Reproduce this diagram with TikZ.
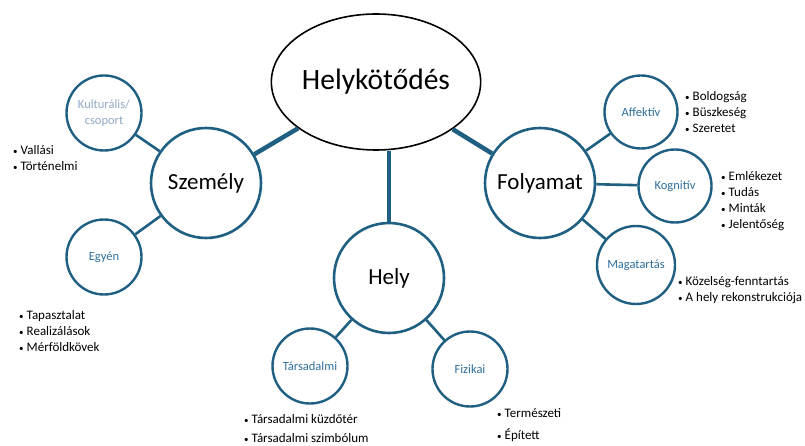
\documentclass[tikz,border=0pt]{standalone}
\usepackage{fontspec}
\setmainfont{Carlito}
\usetikzlibrary{shapes.geometric}
\definecolor{ring}{HTML}{1F5F82}
\definecolor{sublbl}{HTML}{2E6E9E}
\definecolor{pale}{HTML}{8FA8C4}
\newcommand\bul{\makebox[7.5pt][l]{\fontsize{9}{9}\selectfont\textbullet}}
\tikzset{
  hub/.style={circle, draw=ring, line width=2.6pt, minimum size=110pt, inner sep=0pt, font=\fontsize{23}{26}\selectfont},
  sub/.style={circle, draw=ring, line width=2.4pt, minimum size=75pt, inner sep=0pt, text=sublbl, font=\fontsize{12.5}{16}\selectfont, align=center},
  thickline/.style={draw=ring, line width=4.5pt},
  thinline/.style={draw=ring, line width=2.6pt},
  item/.style={anchor=west, inner sep=0pt, text height=1.45ex, text depth=0.25ex, font=\fontsize{13}{15}\selectfont}
}
\begin{document}
\begin{tikzpicture}[x=1pt,y=-1pt]
\useasboundingbox (0,0) rectangle (805,446);
% main ellipse
\node[ellipse, draw=black, line width=1.6pt, minimum width=196pt, minimum height=136pt, inner sep=0pt, font=\fontsize{29.5}{32}\selectfont] (helyk) at (376,82) {Helykötődés};
% hubs
\node[hub] (szem) at (206,183) {Személy};
\node[hub] (hely) at (389,278) {Hely};
\node[hub] (foly) at (540,183) {Folyamat};
% sub circles
\node[sub, text=pale] (kult) at (104,113) {Kulturális/\\csoport};
\node[sub] (egyen) at (104,257) {Egyén};
\node[sub] (tars) at (310,366) {Társadalmi};
\node[sub] (fiz) at (470,369) {Fizikai};
\node[sub, minimum size=73pt] (aff) at (641,112) {Affektív};
\node[sub, minimum size=73pt] (kogn) at (675,186) {Kognitív};
\node[sub, minimum size=78pt] (maga) at (636,265) {Magatartás};
% connectors
\draw[thickline] (helyk) -- (szem);
\draw[thickline] (helyk) -- (foly);
\draw[thickline] (hely.north) -- (hely.north |- helyk.south);
\draw[thinline] (szem) -- (kult);
\draw[thinline] (szem) -- (egyen);
\draw[thinline] (hely) -- (tars);
\draw[thinline] (hely) -- (fiz);
\draw[thinline] (foly) -- (aff);
\draw[thinline] (foly) -- (kogn);
\draw[thinline] (foly) -- (maga);
% lists
\node[item] (v1) at (13,152) {\bul Vallási};
\node[item] (v2) at (13,168) {\bul Történelmi};
\node[item] (e1) at (19,317) {\bul Tapasztalat};
\node[item] (e2) at (19,333) {\bul Realizálások};
\node[item] (e3) at (19,349) {\bul Mérföldkövek};
\node[item] (t1) at (244,421) {\bul Társadalmi küzdőtér};
\node[item] (t2) at (244,440) {\bul Társadalmi szimbólum};
\node[item] (f1) at (497,415) {\bul Természeti};
\node[item] (f2) at (497,437) {\bul Épített};
\node[item] (a1) at (685,98) {\bul Boldogság};
\node[item] (a2) at (685,114) {\bul Büszkeség};
\node[item] (a3) at (685,130) {\bul Szeretet};
\node[item] (k1) at (721,178) {\bul Emlékezet};
\node[item] (k2) at (721,194) {\bul Tudás};
\node[item] (k3) at (721,210) {\bul Minták};
\node[item] (k4) at (721,226) {\bul Jelentőség};
\node[item] (m1) at (678,283) {\bul Közelség-fenntartás};
\node[item] (m2) at (678,299) {\bul A hely rekonstrukciója};
\end{tikzpicture}
\end{document}
